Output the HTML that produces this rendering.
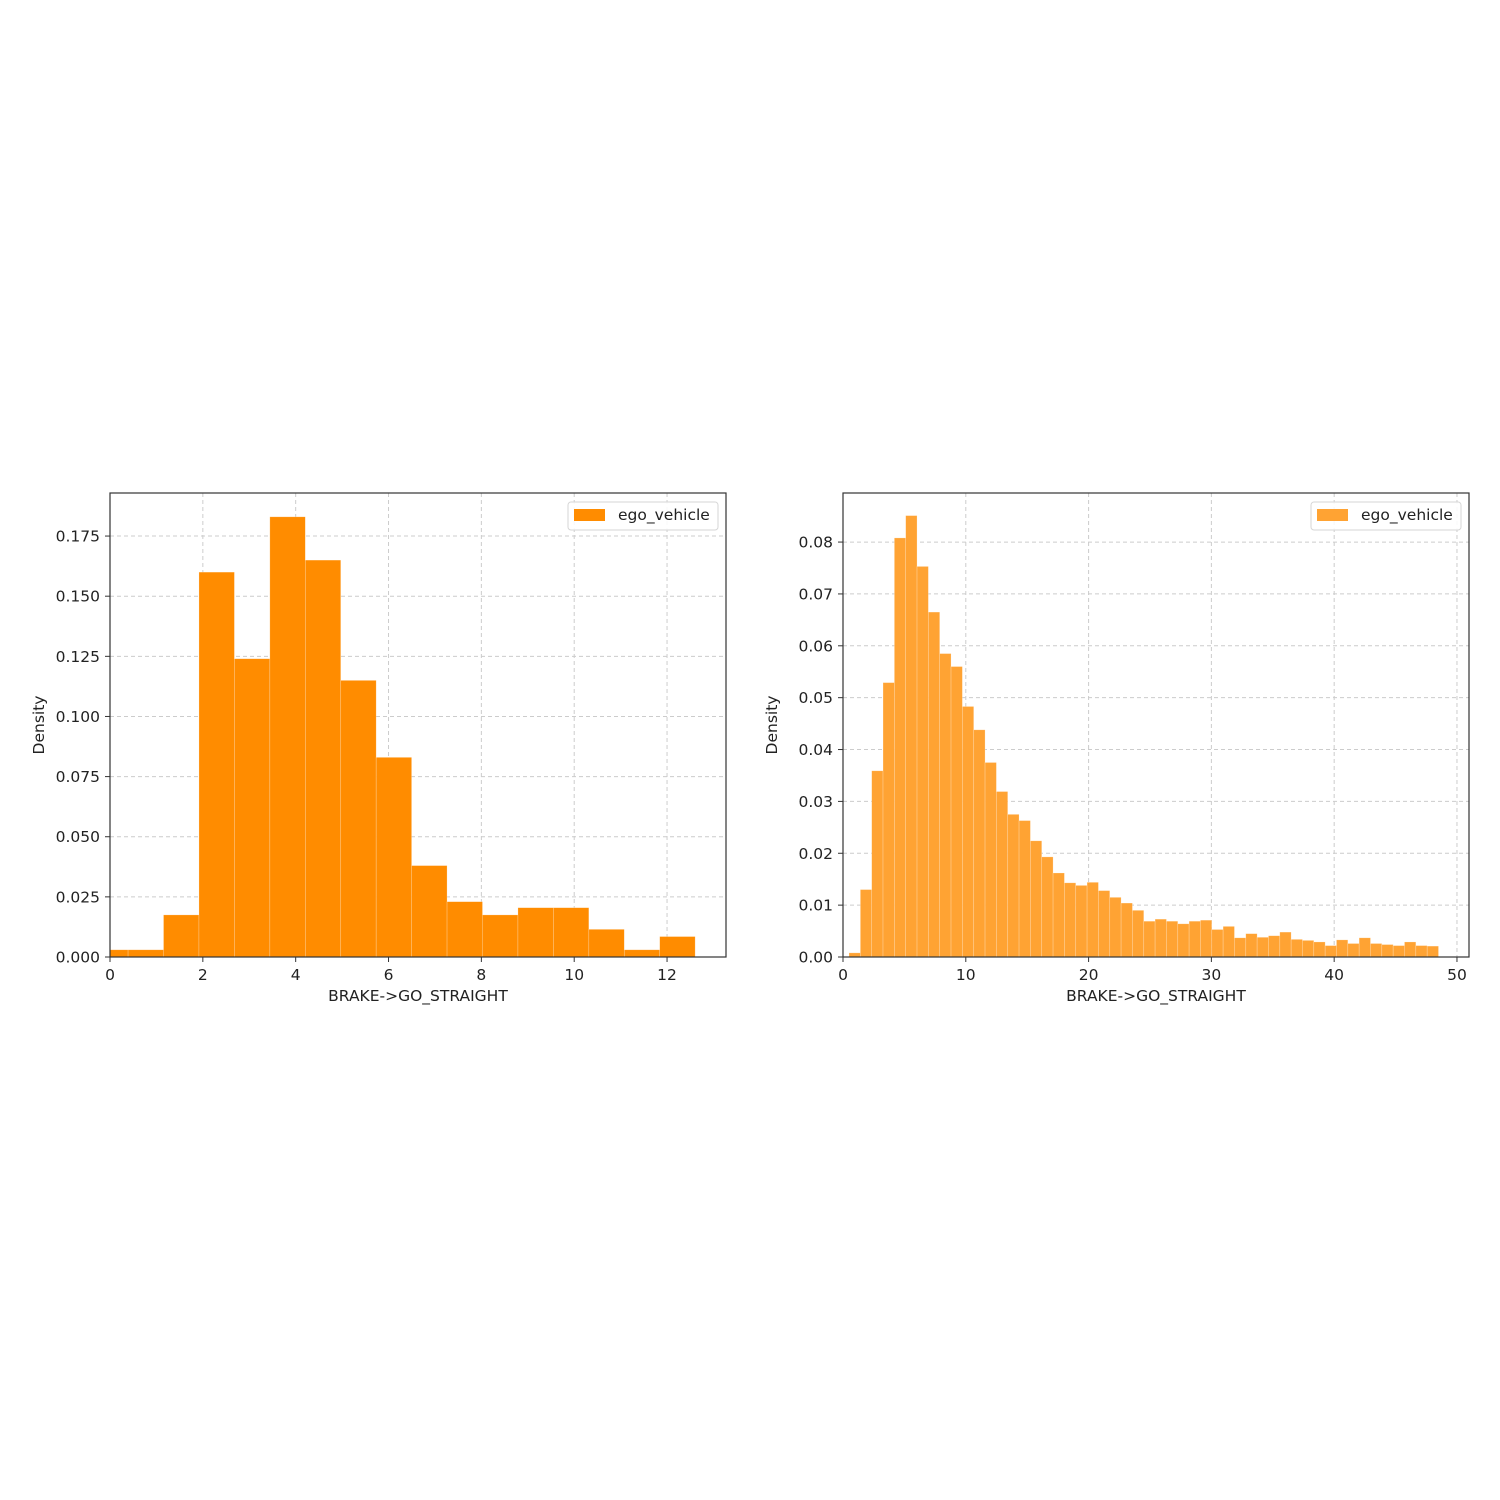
<!DOCTYPE html>
<html><head><meta charset="utf-8"><style>
body{margin:0;background:#fff;}
svg{display:block;font-family:"DejaVu Sans","Liberation Sans",sans-serif;}
</style></head><body>
<svg id="chart" width="1500" height="1500" viewBox="0 0 1500 1500"></svg>
<script>
const leftStart = -0.374;
const leftWidth = 0.7635;
const leftValues = [0.003,0.003,0.0175,0.160,0.124,0.183,0.165,0.115,0.083,0.038,0.023,0.0175,0.0205,0.0205,0.0115,0.003,0.0085];
const leftXTicks = [0,2,4,6,8,10,12];
const leftYTicks = [0,0.025,0.05,0.075,0.1,0.125,0.15,0.175];
const leftYLabels = ["0.000","0.025","0.050","0.075","0.100","0.125","0.150","0.175"];

const rightStart = 0.49;
const rightWidth = 0.9232;
const rightValues = [0.0008,0.013,0.0359,0.0529,0.0808,0.0851,0.0753,0.0665,0.0585,0.056,0.0483,0.0438,0.0375,0.0319,0.0275,0.0263,0.0224,0.0193,0.0162,0.0143,0.0138,0.0144,0.0128,0.0115,0.0104,0.009,0.0069,0.0073,0.0069,0.0064,0.0069,0.0071,0.0053,0.0059,0.0037,0.0045,0.0038,0.0041,0.0048,0.0034,0.0032,0.0029,0.0022,0.0033,0.0026,0.0037,0.0026,0.0024,0.0022,0.0029,0.0022,0.0021];
const rightXTicks = [0,10,20,30,40,50];
const rightYTicks = [0,0.01,0.02,0.03,0.04,0.05,0.06,0.07,0.08];
const rightYLabels = ["0.00","0.01","0.02","0.03","0.04","0.05","0.06","0.07","0.08"];

const svg = document.getElementById('chart');
const NS = 'http://www.w3.org/2000/svg';
const FS = 15.5;
function mk(tag, attrs, parent){
  const e = document.createElementNS(NS, tag);
  for (const k in attrs) e.setAttribute(k, attrs[k]);
  (parent||svg).appendChild(e);
  return e;
}
function panel(id, L, R, T, B, xmin, xmax, ymin, ymax, start, width, values, xt, yt, yl, color){
  const g = mk('g', {});
  
  
  const sx = v => L + (v - xmin) / (xmax - xmin) * (R - L);
  const sy = v => B - (v - ymin) / (ymax - ymin) * (B - T);
  const defs = mk('defs', {}, g);
  const cp = mk('clipPath', {id: id + '-clip'}, defs);
  mk('rect', {x: L, y: T, width: R - L, height: B - T}, cp);
  const grid = mk('g', {stroke: '#cccccc', 'stroke-width': 1, 'stroke-dasharray': '4,3'}, g);
  
  
  xt.forEach(v => { mk('line', {x1: sx(v), x2: sx(v), y1: T, y2: B}, grid); });
  yt.forEach(v => { mk('line', {x1: L, x2: R, y1: sy(v), y2: sy(v)}, grid); });
  const bars = mk('g', {'clip-path': 'url(#' + id + '-clip)'}, g);
  
  
  values.forEach((v, i) => {
    const x0 = sx(start + i * width), x1 = sx(start + (i + 1) * width);
    const r = mk('rect', {x: x0, y: sy(v), width: x1 - x0, height: sy(0) - sy(v), fill: color, stroke: 'rgba(255,255,255,0.35)', 'stroke-width': 0.6}, bars);
    
    
  });
  const fr = mk('rect', {x: L, y: T, width: R - L, height: B - T, fill: 'none', stroke: '#333', 'stroke-width': 1.2}, g);
  
  
  xt.forEach(v => {
    mk('line', {x1: sx(v), x2: sx(v), y1: B, y2: B + 5, stroke: '#333'}, g);
    const t = mk('text', {x: sx(v), y: B + 23, 'text-anchor': 'middle', 'font-size': FS, fill: '#222'}, g);
    t.textContent = String(v);
    
    
  });
  yt.forEach((v, i) => {
    mk('line', {x1: L - 5, x2: L, y1: sy(v), y2: sy(v), stroke: '#333'}, g);
    const t = mk('text', {x: L - 10, y: sy(v) + 5.5, 'text-anchor': 'end', 'font-size': FS, fill: '#222'}, g);
    t.textContent = yl[i];
    
    
  });
  const xl = mk('text', {x: (L + R) / 2, y: B + 44, 'text-anchor': 'middle', 'font-size': FS, fill: '#222'}, g);
  xl.textContent = 'BRAKE->GO_STRAIGHT';
  
  
  const ylb = mk('text', {x: 0, y: 0, transform: 'translate(' + (L - 66) + ',' + ((T + B) / 2) + ') rotate(-90)', 'text-anchor': 'middle', 'font-size': FS, fill: '#222'}, g);
  ylb.textContent = 'Density';
  
  
  const lg = mk('g', {}, g);
  
  
  mk('rect', {x: R - 158, y: T + 9, width: 150, height: 28, rx: 3, fill: 'rgba(255,255,255,0.85)', stroke: '#d6d6d6'}, lg);
  const pt = mk('rect', {x: R - 152, y: T + 16, width: 31, height: 12, fill: color}, lg);
  
  
  const lt = mk('text', {x: R - 108, y: T + 27, 'font-size': FS, fill: '#222'}, lg);
  lt.textContent = 'ego_vehicle';
  
  
}
panel('left-histogram', 110, 726, 493, 957, 0, 13.27, 0, 0.1929, leftStart, leftWidth, leftValues, leftXTicks, leftYTicks, leftYLabels, '#ff8c00');
panel('right-histogram', 843, 1469, 493, 957, 0, 50.98, 0, 0.08946, rightStart, rightWidth, rightValues, rightXTicks, rightYTicks, rightYLabels, '#ffa333');
</script>
</body></html>
